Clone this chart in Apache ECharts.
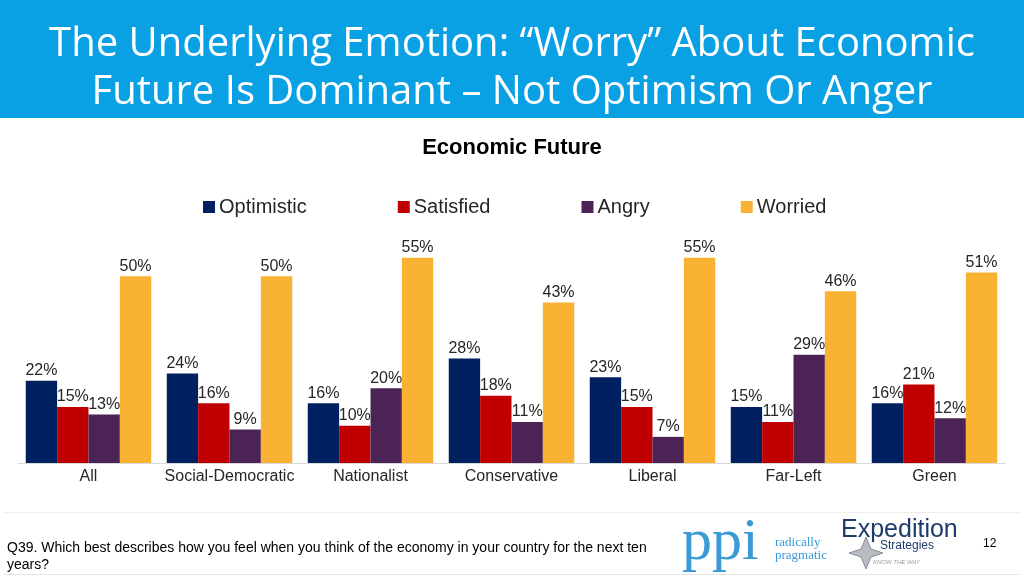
<!DOCTYPE html>
<html>
<head>
<meta charset="utf-8">
<script src="https://cdn.jsdelivr.net/npm/echarts@6/dist/echarts.min.js"></script>
<style>
  html, body { margin: 0; padding: 0; background: #fff; }
  #chart { width: 1024px; height: 576px; }
</style>
</head>
<body>
<div id="chart"></div>
<script>
// categories (party groups) along the x axis
var groups = ['All', 'Social-Democratic', 'Nationalist', 'Conservative', 'Liberal', 'Far-Left', 'Green'];
// share of respondents per feeling, in %
var optimistic = [22, 24, 16, 28, 23, 15, 16];
var satisfied  = [15, 16, 10, 18, 15, 11, 21];
var angry      = [13,  9, 20, 11,  7, 29, 12];
var worried    = [50, 50, 55, 43, 55, 46, 51];

var myChart = echarts.init(document.getElementById('chart'));

var font = 'Liberation Sans, Arial, sans-serif';
var labelStyle = {
    show: true,
    position: 'top',
    distance: 2,
    formatter: '{c}%',
    color: '#262626',
    fontSize: 16,
    fontFamily: font
};

function makeSeries(name, color, data) {
    return {
        name: name,
        type: 'bar',
        barGap: '0%',
        barCategoryGap: '11%',
        itemStyle: { color: color },
        label: labelStyle,
        data: data
    };
}

option = {
    backgroundColor: '#fff',
    animation: false,
    title: [
        {   // slide heading on the blue band
            text: 'The Underlying Emotion: \u201cWorry\u201d About Economic\nFuture Is Dominant \u2013 Not Optimism Or Anger',
            left: 'center',
            top: 16,
            textStyle: {
                color: '#fff',
                fontSize: 40,
                fontWeight: 'normal',
                fontFamily: 'Open Sans',
                lineHeight: 48
            }
        },
        {
            text: 'Economic Future',
            left: 'center',
            top: 132,
            textStyle: {
                color: '#000',
                fontSize: 22,
                fontWeight: 'bold',
                fontFamily: font
            }
        }
    ],
    legend: {
        top: 192,
        left: 198,
        itemWidth: 12,
        itemHeight: 12,
        itemGap: 91,
        icon: 'rect',
        textStyle: { color: '#262626', fontSize: 20, fontFamily: font, padding: [0, 0, 0, -1] },
        data: ['Optimistic', 'Satisfied', 'Angry', 'Worried']
    },
    grid: { left: 18, right: 19, top: 239, bottom: 113 },
    xAxis: {
        type: 'category',
        data: groups,
        axisTick: { show: false },
        axisLine: { lineStyle: { color: '#d9d9d9', width: 1 } },
        axisLabel: { interval: 0, color: '#262626', fontSize: 16, fontFamily: font, margin: 6 }
    },
    yAxis: {
        type: 'value',
        min: 0,
        max: 60,
        show: false,
        splitLine: { show: false }
    },
    graphic: [
        { type: 'rect', z: -1, shape: { x: 0, y: 0, width: 1024, height: 118 }, style: { fill: '#0aa0e4' } },
        // footer frame lines
        { type: 'rect', shape: { x: 4, y: 512, width: 1016, height: 1 }, style: { fill: '#eeeeee' } },
        { type: 'rect', shape: { x: 4, y: 574, width: 1016, height: 1 }, style: { fill: '#e4e4e4' } },
        {   // question text
            type: 'text', left: 7, top: 540,
            style: {
                text: 'Q39. Which best describes how you feel when you think of the economy in your country for the next ten\nyears?',
                fill: '#000', fontSize: 14, fontFamily: font, lineHeight: 17
            }
        },
        {   // page number
            type: 'text', left: 983, top: 538,
            style: { text: '12', fill: '#000', fontSize: 12, fontFamily: font }
        },
        // ppi logo
        {
            type: 'text', left: 682, top: 513,
            style: { text: 'ppi', fill: '#3a9ad6', fontSize: 60, fontFamily: 'Liberation Serif, DejaVu Serif, serif' }
        },
        {
            type: 'text', left: 775, top: 536,
            style: { text: 'radically\npragmatic', fill: '#3a9ad6', fontSize: 13, lineHeight: 13, fontFamily: 'Liberation Serif, serif' }
        },
        // Expedition Strategies logo
        {
            type: 'text', left: 841, top: 518,
            style: { text: 'Expedition', fill: '#1d3b6b', fontSize: 25, fontFamily: font }
        },
        {
            type: 'text', left: 880, top: 540,
            style: { text: 'Strategies', fill: '#1d3b6b', fontSize: 12, fontFamily: font }
        },
        {
            type: 'text', left: 873, top: 559,
            style: { text: 'KNOW THE WAY', fill: '#9a9a9a', fontSize: 6, fontStyle: 'italic', fontFamily: font }
        },
        {
            type: 'polygon',
            shape: { points: [[866, 537], [871, 549], [883, 553], [871, 557], [866, 569], [861, 557], [849, 553], [861, 549]] },
            style: { fill: '#b8bcc2', stroke: '#8a9099', lineWidth: 1 }
        }
    ],
    series: [
        makeSeries('Optimistic', '#002060', optimistic),
        makeSeries('Satisfied', '#c00000', satisfied),
        makeSeries('Angry', '#4b2355', angry),
        makeSeries('Worried', '#f9b233', worried)
    ]
};

myChart.setOption(option);
</script>
</body>
</html>
